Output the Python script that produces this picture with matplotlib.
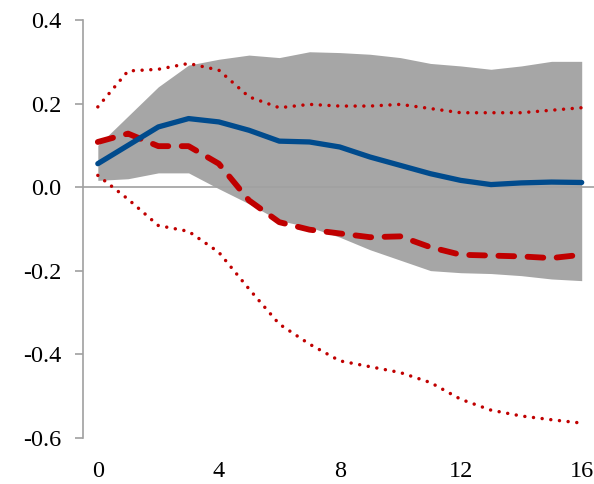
import matplotlib
matplotlib.use("Agg")
import matplotlib.pyplot as plt
import numpy as np

# Horizon (quarters)
horizon = list(range(17))

# Central estimate (solid blue)
central = [0.056, 0.100, 0.144, 0.164, 0.156, 0.136, 0.110, 0.108, 0.096,
           0.072, 0.052, 0.032, 0.016, 0.006, 0.010, 0.012, 0.011]

# Shaded confidence band
band_upper = [0.100, 0.170, 0.240, 0.292, 0.306, 0.316, 0.310, 0.324, 0.322,
              0.318, 0.310, 0.296, 0.290, 0.282, 0.290, 0.301, 0.301]
band_lower = [0.016, 0.020, 0.034, 0.034, -0.004, -0.040, -0.080, -0.096, -0.120,
              -0.150, -0.175, -0.200, -0.205, -0.207, -0.212, -0.220, -0.224]

# Alternative estimate (dashed red) and its bounds (dotted red)
alt = [0.108, 0.128, 0.098, 0.098, 0.056, -0.032, -0.084, -0.102, -0.111,
       -0.120, -0.118, -0.144, -0.162, -0.164, -0.166, -0.170, -0.162]
alt_upper = [0.192, 0.278, 0.282, 0.296, 0.280, 0.216, 0.190, 0.198, 0.194,
             0.194, 0.198, 0.188, 0.178, 0.178, 0.178, 0.184, 0.190]
alt_lower = [0.028, -0.029, -0.092, -0.106, -0.156, -0.244, -0.328, -0.376, -0.416,
             -0.430, -0.444, -0.468, -0.508, -0.534, -0.548, -0.557, -0.565]

x_ticks = [0, 4, 8, 12, 16]
y_ticks = [-0.6, -0.4, -0.2, 0.0, 0.2, 0.4]

W, H = 594, 484
fig = plt.figure(figsize=(W / 100, H / 100), dpi=100)
ax = fig.add_axes([82.7 / W, 1 - 437.7 / H, (W - 82.7) / W, (437.7 - 20) / H])

axis_grey = "#a0a0a0"
red = "#c00000"

ax.fill_between(horizon, band_lower, band_upper, color="#a6a6a6", lw=0, zorder=1)
ax.axhline(0, color=axis_grey, lw=1.2, zorder=2)

ax.plot(horizon, alt_upper, color=red, lw=2.5, dashes=(0.01, 2.5),
        dash_capstyle="round", zorder=3)
ax.plot(horizon, alt_lower, color=red, lw=2.5, dashes=(0.01, 2.5),
        dash_capstyle="round", zorder=3)
ax.plot(horizon, alt, color=red, lw=4.2, dashes=(2.7, 2.3),
        dash_capstyle="round", zorder=4)
ax.plot(horizon, central, color="#004b8d", lw=3.8, solid_capstyle="round",
        solid_joinstyle="round", zorder=5)

ax.set_xlim(-0.5, (W - 97.7) / 30.25)
ax.set_ylim(-0.6, 0.4)

for side in ("top", "right", "bottom"):
    ax.spines[side].set_visible(False)
ax.spines["left"].set_color(axis_grey)
ax.spines["left"].set_linewidth(1.2)

font = {"family": "Liberation Serif", "size": 17.5}
ax.set_yticks(y_ticks)
ax.set_yticklabels([f"{v:.1f}" for v in y_ticks], fontdict=font)
ax.set_xticks(x_ticks)
ax.set_xticklabels([str(v) for v in x_ticks], fontdict=font)
ax.tick_params(axis="y", direction="out", length=5.5, width=1.2,
               color=axis_grey, pad=10)
ax.tick_params(axis="x", length=0, pad=17)

fig.savefig("out.png", dpi=100)
